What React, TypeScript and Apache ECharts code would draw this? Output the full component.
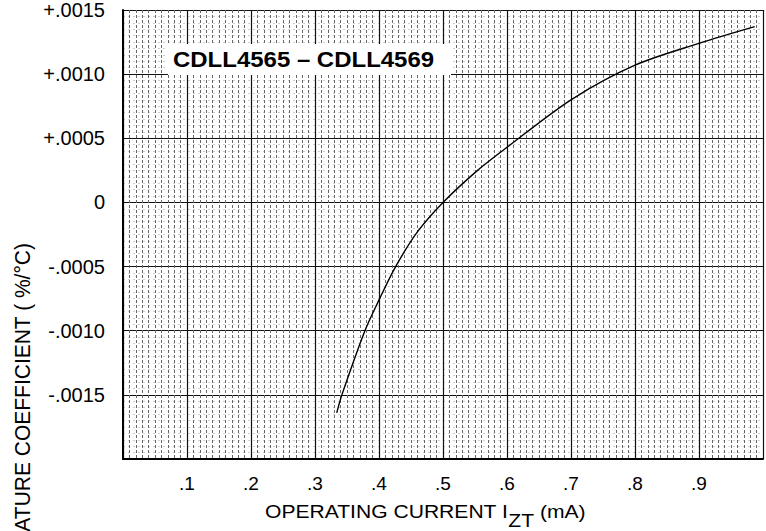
import React, { useEffect, useRef } from "react";
import * as echarts from "echarts";

// Curve (operating current in mA, temp coefficient in %/°C)
const currentMA = [0.334, 0.342, 0.378, 0.401, 0.426, 0.46, 0.5, 0.554, 0.6, 0.7, 0.8, 0.9, 0.987];
const tempCoeff = [-0.00164, -0.0015, -0.001, -0.00075, -0.0005, -0.00023, 0, 0.00025, 0.00043, 0.0008, 0.00107, 0.00124, 0.00137];

const xTickLabels = ["", ".1", ".2", ".3", ".4", ".5", ".6", ".7", ".8", ".9", ""];
const yTickLabels = ["", "-.0015", "-.0010", "-.0005", "0", "+.0005", "+.0010", "+.0015"];

const titleText = "CDLL4565 \u2013 CDLL4569";
const yName = "TEMPERATURE COEFFICIENT ( %/\u00B0C)";

const FONT = "'Liberation Sans', Arial, Helvetica, sans-serif";

export default function App() {
  const ref = useRef<HTMLDivElement>(null);
  useEffect(() => {
    if (!ref.current) return;
    const chart = echarts.init(ref.current, null, { renderer: "svg" });
    const data = currentMA.map((x, i) => [x, tempCoeff[i]]);
    const option: any = {
      animation: false,
      backgroundColor: "#fff",
      grid: { left: 123, right: -3, top: 8, bottom: 72 },
      xAxis: {
        type: "value",
        min: 0,
        max: 1,
        interval: 0.1,
        axisLine: { show: true, onZero: false, lineStyle: { color: "#000", width: 2 } },
        axisTick: { show: false },
        axisLabel: {
          formatter: (v: number) => xTickLabels[Math.round(v / 0.1)] ?? "",
          fontSize: 19,
          color: "#000",
          fontFamily: FONT,
          margin: 15,
        },
        splitLine: { show: true, lineStyle: { color: "#111", width: 1.2 } },
        minorTick: { show: true, splitNumber: 10, length: 0 },
        minorSplitLine: { show: true, lineStyle: { color: "#666", width: 1, type: [3, 2] } },
      },
      yAxis: {
        type: "value",
        min: -0.002,
        max: 0.0015,
        interval: 0.0005,
        axisLine: { show: true, onZero: false, lineStyle: { color: "#000", width: 2 } },
        axisTick: { show: false },
        axisLabel: {
          formatter: (v: number) => yTickLabels[Math.round((v + 0.002) / 0.0005)] ?? "",
          fontSize: 20,
          color: "#000",
          fontFamily: FONT,
          margin: 18,
          padding: [10, 0, 0, 0],
        },
        splitLine: { show: true, lineStyle: { color: "#111", width: 1.2 } },
        minorTick: { show: true, splitNumber: 10, length: 0 },
        minorSplitLine: { show: true, lineStyle: { color: "#cfcfcf", width: 1, type: [2, 3] } },
      },
      series: [
        {
          type: "line",
          data,
          smooth: 0.3,
          symbol: "none",
          lineStyle: { color: "#000", width: 1.4 },
          z: 10,
        },
      ],
      graphic: [
        {
          type: "rect",
          z: 100,
          shape: { x: 168, y: 44, width: 283, height: 31 },
          style: { fill: "#fff" },
        },
        {
          type: "text",
          z: 101,
          x: 173,
          y: 59,
          scaleX: 1.09,
          style: {
            text: titleText,
            fontSize: 22,
            fontWeight: "bold",
            fontFamily: FONT,
            fill: "#000",
            align: "left",
            verticalAlign: "middle",
          },
        },
        {
          type: "text",
          z: 101,
          x: 22,
          y: 243,
          rotation: Math.PI / 2,
          scaleY: 1.08,
          style: {
            text: yName,
            fontSize: 21,
            fontFamily: FONT,
            fill: "#000",
            align: "right",
            verticalAlign: "middle",
          },
        },
        {
          type: "text",
          z: 101,
          x: 265,
          y: 516,
          scaleX: 1.14,
          style: {
            text: "{a|OPERATING CURRENT I}{b|ZT}{a| (mA)}",
            fontSize: 18.5,
            fontFamily: FONT,
            fill: "#000",
            align: "left",
            verticalAlign: "middle",
            rich: {
              a: { fontSize: 18.5, fontFamily: FONT, fill: "#000", padding: [0, 0, 9, 0] },
              b: { fontSize: 18.5, fontFamily: FONT, fill: "#000", padding: [9, 0, 0, 0] },
            },
          },
        },
      ],
    };
    chart.setOption(option);
    return () => chart.dispose();
  }, []);
  return (
    <div
      ref={ref}
      style={{ position: "absolute", left: 0, top: 0, width: 766, height: 531 }}
    />
  );
}
